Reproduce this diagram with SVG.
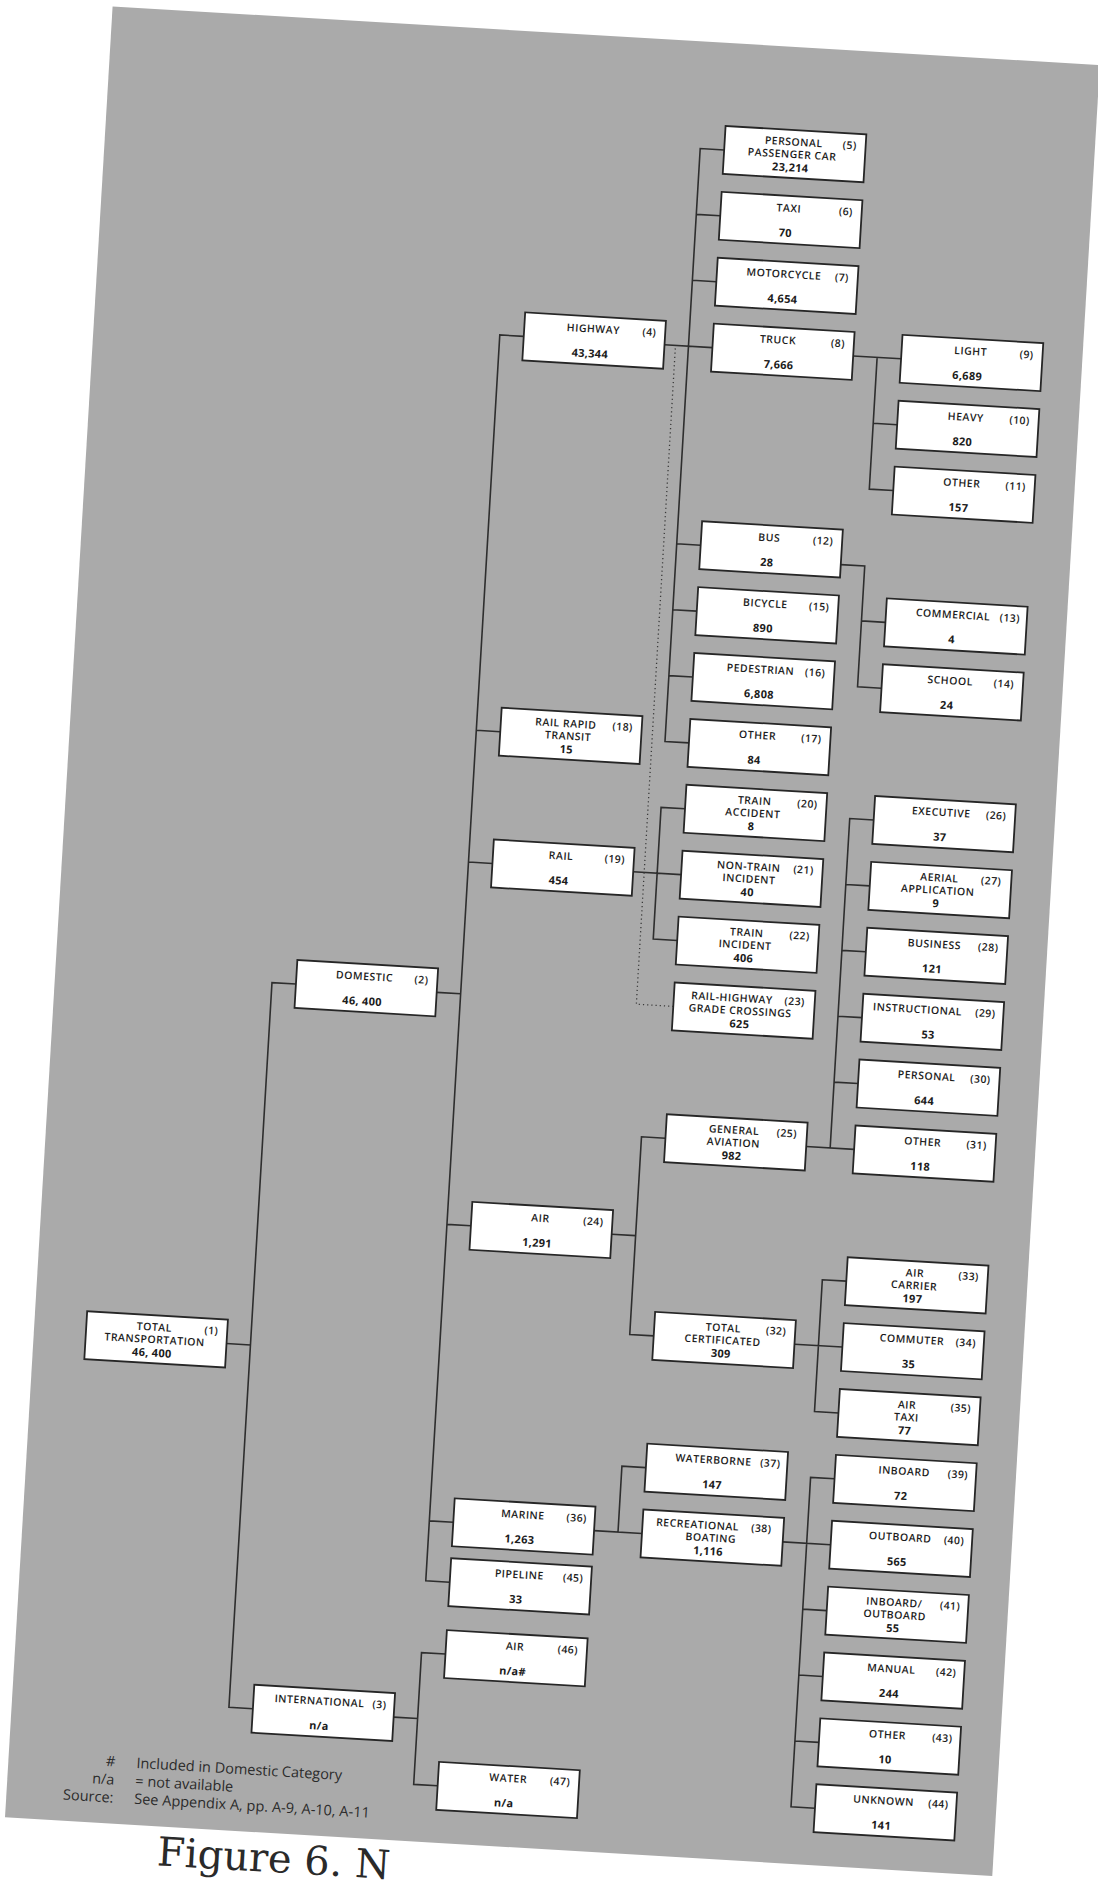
<svg xmlns="http://www.w3.org/2000/svg" width="1098" height="1881" viewBox="0 0 1098 1881">
<style>
.page{fill:#aaaaaa}
.box{fill:#ffffff;stroke:#262626;stroke-width:1.8}
.lbl{font-family:"Open Sans","Liberation Sans",sans-serif;font-size:10.5px;font-weight:600;letter-spacing:0.5px;fill:#1c1c1c;text-anchor:middle}
.id{font-family:"Open Sans","Liberation Sans",sans-serif;font-size:10.5px;font-weight:600;letter-spacing:0.4px;fill:#1c1c1c;text-anchor:end}
.num{font-family:"Open Sans","Liberation Sans",sans-serif;font-size:11px;font-weight:700;letter-spacing:0.3px;fill:#1c1c1c;text-anchor:middle}
.ln{stroke:#2e2e2e;stroke-width:1.6;fill:none}
.dot{stroke:#3a3a3a;stroke-width:1.3;stroke-dasharray:1.2 3;fill:none}
.leg{font-family:"Open Sans","Liberation Sans",sans-serif;font-size:14.5px;fill:#2a2a2a}
.cap{font-family:"DejaVu Serif","Liberation Serif",serif;font-size:40px;fill:#2a2a2a}
</style>
<rect width="1098" height="1881" fill="#ffffff"/>
<g transform="rotate(3.4 550 940)">
<rect class="page" x="58" y="34" width="989" height="1814"/>
<g id="connectors">
<path class="ln" d="M251 1362 H275 M299 999 H275 V1725 H299"/>
<path class="ln" d="M440 999 H464 M488 339 H464 V1587 H488 M464 735 H488 M464 867 H488 M464 1230 H488 M464 1527 H488"/>
<path class="ln" d="M440 1725 H464 M488 1659 H464 V1791 H488"/>
<path class="ln" d="M629 339 H677 M677 141 H653 V735 H677 M653 207 H677 M653 273 H677 M653 537 H677 M653 603 H677 M653 669 H677"/>
<path class="ln" d="M818 339 H866 M842 339 V471 H866 M842 405 H866"/>
<path class="ln" d="M818 548 H842 V669 H866 M842 603 H866"/>
<path class="ln" d="M629 867 H677 M677 801 H653 V933 H677"/>
<path class="dot" d="M640 342 V999 H677"/>
<path class="ln" d="M629 1230 H653 M677 1131 H653 V1329 H677"/>
<path class="ln" d="M818 1131 H866 M866 801 H842 V1131 M842 867 H866 M842 933 H866 M842 999 H866 M842 1065 H866"/>
<path class="ln" d="M818 1329 H866 M866 1263 H842 V1395 H866"/>
<path class="ln" d="M629 1527 H677 M677 1461 H653 V1527"/>
<path class="ln" d="M818 1527 H866 M866 1461 H842 V1791 H866 M842 1593 H866 M842 1659 H866 M842 1725 H866"/>
</g>
<g id="n1" transform="translate(110,1338)"><rect class="box" width="141" height="48"/><text class="lbl" x="68" y="15.5">TOTAL</text><text class="lbl" x="69" y="28">TRANSPORTATION</text><text class="id" x="132" y="15.5">(1)</text><text class="num" x="67" y="41.5">46, 400</text></g>
<g id="n2" transform="translate(299,975)"><rect class="box" width="141" height="48"/><text class="lbl" x="68" y="16">DOMESTIC</text><text class="id" x="132" y="16">(2)</text><text class="num" x="67" y="41">46, 400</text></g>
<g id="n3" transform="translate(299,1701)"><rect class="box" width="141" height="48"/><text class="lbl" x="66" y="16">INTERNATIONAL</text><text class="id" x="133" y="16">(3)</text><text class="num" x="67" y="41">n/a</text></g>
<g id="n4" transform="translate(488,315)"><rect class="box" width="141" height="48"/><text class="lbl" x="69" y="16">HIGHWAY</text><text class="id" x="132" y="16">(4)</text><text class="num" x="67" y="41">43,344</text></g>
<g id="n5" transform="translate(677,117)"><rect class="box" width="141" height="48"/><text class="lbl" x="69" y="15.5">PERSONAL</text><text class="lbl" x="68" y="28">PASSENGER CAR</text><text class="id" x="132" y="15.5">(5)</text><text class="num" x="67" y="41.5">23,214</text></g>
<g id="n6" transform="translate(677,183)"><rect class="box" width="141" height="48"/><text class="lbl" x="68" y="16">TAXI</text><text class="id" x="132" y="16">(6)</text><text class="num" x="66" y="41">70</text></g>
<g id="n7" transform="translate(677,249)"><rect class="box" width="141" height="48"/><text class="lbl" x="67" y="16">MOTORCYCLE</text><text class="id" x="132" y="16">(7)</text><text class="num" x="67" y="41">4,654</text></g>
<g id="n8" transform="translate(677,315)"><rect class="box" width="141" height="48"/><text class="lbl" x="65" y="16">TRUCK</text><text class="id" x="132" y="16">(8)</text><text class="num" x="67" y="41">7,666</text></g>
<g id="n9" transform="translate(866,315)"><rect class="box" width="141" height="48"/><text class="lbl" x="69" y="16">LIGHT</text><text class="id" x="132" y="16">(9)</text><text class="num" x="67" y="41">6,689</text></g>
<g id="n10" transform="translate(866,381)"><rect class="box" width="141" height="48"/><text class="lbl" x="68" y="16">HEAVY</text><text class="id" x="132" y="16">(10)</text><text class="num" x="66" y="41">820</text></g>
<g id="n11" transform="translate(866,447)"><rect class="box" width="141" height="48"/><text class="lbl" x="68" y="16">OTHER</text><text class="id" x="132" y="16">(11)</text><text class="num" x="66" y="41">157</text></g>
<g id="n12" transform="translate(677,513)"><rect class="box" width="141" height="48"/><text class="lbl" x="68" y="16">BUS</text><text class="id" x="132" y="16">(12)</text><text class="num" x="67" y="41">28</text></g>
<g id="n13" transform="translate(866,579)"><rect class="box" width="141" height="48"/><text class="lbl" x="67" y="16">COMMERCIAL</text><text class="id" x="134" y="16">(13)</text><text class="num" x="67" y="41">4</text></g>
<g id="n14" transform="translate(866,645)"><rect class="box" width="141" height="48"/><text class="lbl" x="68" y="16">SCHOOL</text><text class="id" x="132" y="16">(14)</text><text class="num" x="66" y="41">24</text></g>
<g id="n15" transform="translate(677,579)"><rect class="box" width="141" height="48"/><text class="lbl" x="68" y="16">BICYCLE</text><text class="id" x="132" y="16">(15)</text><text class="num" x="67" y="41">890</text></g>
<g id="n16" transform="translate(677,645)"><rect class="box" width="141" height="48"/><text class="lbl" x="67" y="16">PEDESTRIAN</text><text class="id" x="132" y="16">(16)</text><text class="num" x="67" y="41">6,808</text></g>
<g id="n17" transform="translate(677,711)"><rect class="box" width="141" height="48"/><text class="lbl" x="68" y="16">OTHER</text><text class="id" x="132" y="16">(17)</text><text class="num" x="66" y="41">84</text></g>
<g id="n18" transform="translate(488,711)"><rect class="box" width="141" height="48"/><text class="lbl" x="65" y="15.5">RAIL RAPID</text><text class="lbl" x="68" y="28">TRANSIT</text><text class="id" x="132" y="15.5">(18)</text><text class="num" x="67" y="41.5">15</text></g>
<g id="n19" transform="translate(488,843)"><rect class="box" width="141" height="48"/><text class="lbl" x="68" y="16">RAIL</text><text class="id" x="132" y="16">(19)</text><text class="num" x="67" y="41">454</text></g>
<g id="n20" transform="translate(677,777)"><rect class="box" width="141" height="48"/><text class="lbl" x="69" y="15.5">TRAIN</text><text class="lbl" x="68" y="28">ACCIDENT</text><text class="id" x="132" y="15.5">(20)</text><text class="num" x="67" y="41.5">8</text></g>
<g id="n21" transform="translate(677,843)"><rect class="box" width="141" height="48"/><text class="lbl" x="67" y="15.5">NON-TRAIN</text><text class="lbl" x="68" y="28">INCIDENT</text><text class="id" x="132" y="15.5">(21)</text><text class="num" x="67" y="41.5">40</text></g>
<g id="n22" transform="translate(677,909)"><rect class="box" width="141" height="48"/><text class="lbl" x="69" y="15.5">TRAIN</text><text class="lbl" x="68" y="28">INCIDENT</text><text class="id" x="132" y="15.5">(22)</text><text class="num" x="67" y="41.5">406</text></g>
<g id="n23" transform="translate(677,975)"><rect class="box" width="141" height="48"/><text class="lbl" x="58" y="15.5">RAIL-HIGHWAY</text><text class="lbl" x="67" y="28">GRADE CROSSINGS</text><text class="id" x="131" y="15.5">(23)</text><text class="num" x="67" y="41.5">625</text></g>
<g id="n24" transform="translate(488,1206)"><rect class="box" width="141" height="48"/><text class="lbl" x="69" y="16">AIR</text><text class="id" x="132" y="16">(24)</text><text class="num" x="67" y="41">1,291</text></g>
<g id="n25" transform="translate(677,1107)"><rect class="box" width="141" height="48"/><text class="lbl" x="68" y="15.5">GENERAL</text><text class="lbl" x="68" y="28">AVIATION</text><text class="id" x="131" y="15.5">(25)</text><text class="num" x="67" y="41.5">982</text></g>
<g id="n26" transform="translate(866,777)"><rect class="box" width="141" height="48"/><text class="lbl" x="67" y="16">EXECUTIVE</text><text class="id" x="132" y="16">(26)</text><text class="num" x="67" y="41">37</text></g>
<g id="n27" transform="translate(866,843)"><rect class="box" width="141" height="48"/><text class="lbl" x="69" y="15.5">AERIAL</text><text class="lbl" x="68" y="28">APPLICATION</text><text class="id" x="131" y="15.5">(27)</text><text class="num" x="67" y="41.5">9</text></g>
<g id="n28" transform="translate(866,909)"><rect class="box" width="141" height="48"/><text class="lbl" x="68" y="16">BUSINESS</text><text class="id" x="132" y="16">(28)</text><text class="num" x="67" y="41">121</text></g>
<g id="n29" transform="translate(866,975)"><rect class="box" width="141" height="48"/><text class="lbl" x="55" y="16">INSTRUCTIONAL</text><text class="id" x="133" y="16">(29)</text><text class="num" x="67" y="41">53</text></g>
<g id="n30" transform="translate(866,1041)"><rect class="box" width="141" height="48"/><text class="lbl" x="68" y="16">PERSONAL</text><text class="id" x="132" y="16">(30)</text><text class="num" x="67" y="41">644</text></g>
<g id="n31" transform="translate(866,1107)"><rect class="box" width="141" height="48"/><text class="lbl" x="68" y="16">OTHER</text><text class="id" x="132" y="16">(31)</text><text class="num" x="67" y="41">118</text></g>
<g id="n32" transform="translate(677,1305)"><rect class="box" width="141" height="48"/><text class="lbl" x="69" y="15.5">TOTAL</text><text class="lbl" x="69" y="28">CERTIFICATED</text><text class="id" x="132" y="15.5">(32)</text><text class="num" x="68" y="41.5">309</text></g>
<g id="n33" transform="translate(866,1239)"><rect class="box" width="141" height="48"/><text class="lbl" x="68" y="15.5">AIR</text><text class="lbl" x="68" y="28">CARRIER</text><text class="id" x="132" y="15.5">(33)</text><text class="num" x="67" y="41.5">197</text></g>
<g id="n34" transform="translate(866,1305)"><rect class="box" width="141" height="48"/><text class="lbl" x="69" y="16">COMMUTER</text><text class="id" x="133" y="16">(34)</text><text class="num" x="67" y="41">35</text></g>
<g id="n35" transform="translate(866,1371)"><rect class="box" width="141" height="48"/><text class="lbl" x="68" y="15.5">AIR</text><text class="lbl" x="68" y="28">TAXI</text><text class="id" x="132" y="15.5">(35)</text><text class="num" x="67" y="41.5">77</text></g>
<g id="n36" transform="translate(488,1503)"><rect class="box" width="141" height="48"/><text class="lbl" x="69" y="16">MARINE</text><text class="id" x="133" y="16">(36)</text><text class="num" x="67" y="41">1,263</text></g>
<g id="n37" transform="translate(677,1437)"><rect class="box" width="141" height="48"/><text class="lbl" x="67" y="16">WATERBORNE</text><text class="id" x="134" y="16">(37)</text><text class="num" x="67" y="41">147</text></g>
<g id="n38" transform="translate(677,1503)"><rect class="box" width="141" height="48"/><text class="lbl" x="55" y="15.5">RECREATIONAL</text><text class="lbl" x="69" y="28">BOATING</text><text class="id" x="129" y="15.5">(38)</text><text class="num" x="67" y="41.5">1,116</text></g>
<g id="n39" transform="translate(866,1437)"><rect class="box" width="141" height="48"/><text class="lbl" x="69" y="16">INBOARD</text><text class="id" x="133" y="16">(39)</text><text class="num" x="67" y="41">72</text></g>
<g id="n40" transform="translate(866,1503)"><rect class="box" width="141" height="48"/><text class="lbl" x="69" y="16">OUTBOARD</text><text class="id" x="133" y="16">(40)</text><text class="num" x="67" y="41">565</text></g>
<g id="n41" transform="translate(866,1569)"><rect class="box" width="141" height="48"/><text class="lbl" x="67" y="15.5">INBOARD/</text><text class="lbl" x="68" y="28">OUTBOARD</text><text class="id" x="133" y="15.5">(41)</text><text class="num" x="67" y="41.5">55</text></g>
<g id="n42" transform="translate(866,1635)"><rect class="box" width="141" height="48"/><text class="lbl" x="68" y="16">MANUAL</text><text class="id" x="133" y="16">(42)</text><text class="num" x="67" y="41">244</text></g>
<g id="n43" transform="translate(866,1701)"><rect class="box" width="141" height="48"/><text class="lbl" x="68" y="16">OTHER</text><text class="id" x="133" y="16">(43)</text><text class="num" x="67" y="41">10</text></g>
<g id="n44" transform="translate(866,1767)"><rect class="box" width="141" height="48"/><text class="lbl" x="68" y="16">UNKNOWN</text><text class="id" x="133" y="16">(44)</text><text class="num" x="67" y="41">141</text></g>
<g id="n45" transform="translate(488,1563)"><rect class="box" width="141" height="48"/><text class="lbl" x="69" y="16">PIPELINE</text><text class="id" x="133" y="16">(45)</text><text class="num" x="67" y="41">33</text></g>
<g id="n46" transform="translate(488,1635)"><rect class="box" width="141" height="48"/><text class="lbl" x="69" y="16">AIR</text><text class="id" x="132" y="16">(46)</text><text class="num" x="68" y="41">n/a#</text></g>
<g id="n47" transform="translate(488,1767)"><rect class="box" width="141" height="48"/><text class="lbl" x="70" y="16">WATER</text><text class="id" x="132" y="16">(47)</text><text class="num" x="67" y="41">n/a</text></g>
<g id="legend">
<text class="leg" x="165" y="1791" text-anchor="end">#</text>
<text class="leg" x="186" y="1791">Included in Domestic Category</text>
<text class="leg" x="165" y="1809" text-anchor="end">n/a</text>
<text class="leg" x="186" y="1809">= not available</text>
<text class="leg" x="165" y="1827" text-anchor="end">Source:</text>
<text class="leg" x="186" y="1827">See Appendix A, pp. A-9, A-10, A-11</text>
</g>
<text class="cap" x="212" y="1887">Figure 6.  N</text>
</g>
</svg>
